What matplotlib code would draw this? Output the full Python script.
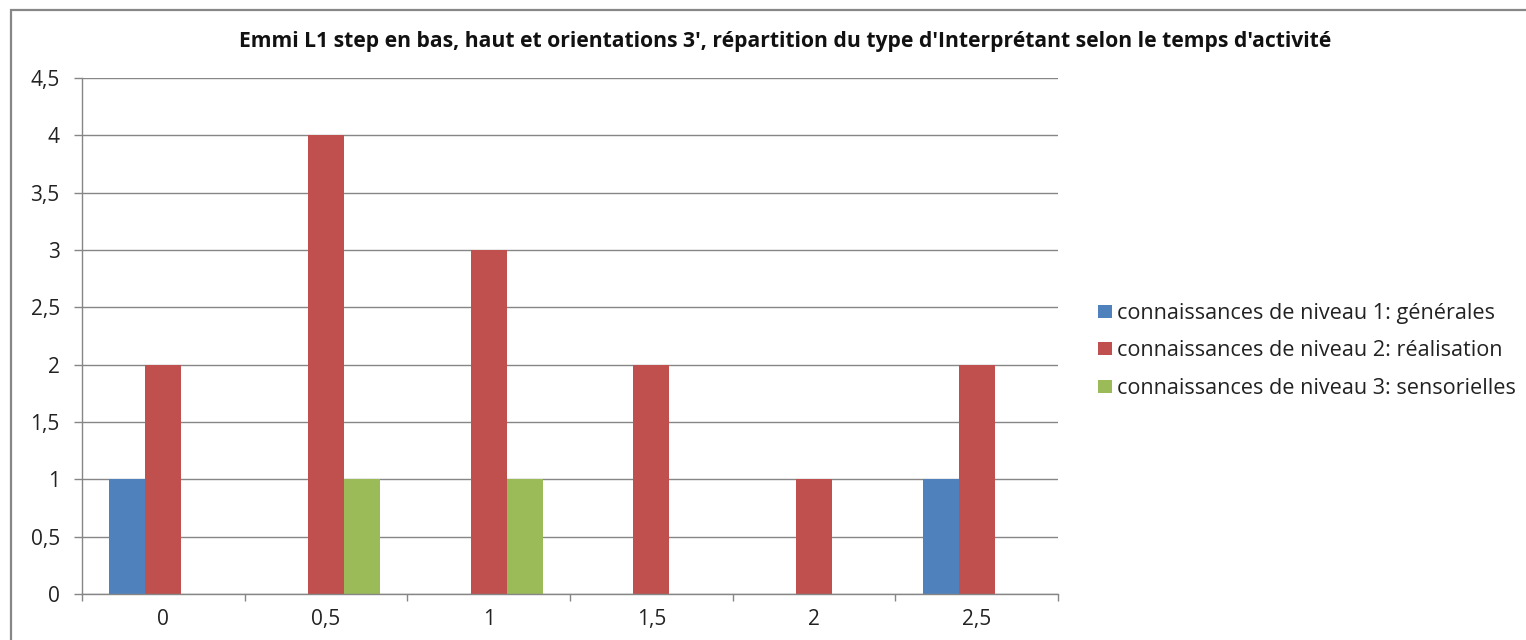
import matplotlib
matplotlib.use("Agg")
import matplotlib.pyplot as plt
import numpy as np
from matplotlib.patches import Rectangle
from matplotlib.ticker import FixedLocator, FuncFormatter

# Temps d'activité (catégories) et nombre d'interprétants par niveau
categories = ["0", "0,5", "1", "1,5", "2", "2,5"]
niveau1 = [1, 0, 0, 0, 0, 1]
niveau2 = [2, 4, 3, 2, 1, 2]
niveau3 = [0, 1, 1, 0, 0, 0]
series_labels = [
    "connaissances de niveau 1: générales",
    "connaissances de niveau 2: réalisation",
    "connaissances de niveau 3: sensorielles",
]
colors = ["#4F81BD", "#C0504D", "#9BBB59"]
title = ("Emmi L1 step en bas, haut et orientations 3', répartition du type "
         "d'Interprétant selon le temps d'activité")

plt.rcParams["font.family"] = ["Open Sans", "DejaVu Sans"]
W, H = 1526, 640
fig = plt.figure(figsize=(W / 100, H / 100), dpi=100)

# outer chart border (clipped by the figure edge on right and bottom)
fig.add_artist(Rectangle((11 / W, -0.1), 1.2, 1.1 - 10 / H,
                         transform=fig.transFigure, fill=False,
                         edgecolor="#878787", linewidth=1.6))

ax = fig.add_axes([82 / W, 1 - 594 / H, (1058 - 82) / W, (594 - 78) / H])

x = np.arange(len(categories)) + 0.5
bw = 36 / ((1058 - 82) / 6)
for i, (vals, lab, col) in enumerate(zip([niveau1, niveau2, niveau3], series_labels, colors)):
    ax.bar(x + (i - 1) * bw, vals, width=bw, color=col, label=lab, zorder=3)

ax.set_xlim(0, len(categories))
ax.set_ylim(0, 4.5)
ax.set_yticks(np.arange(0, 4.51, 0.5))
ax.yaxis.set_major_formatter(FuncFormatter(lambda v, p: f"{v:g}".replace(".", ",")))
ax.set_xticks(x)
ax.set_xticklabels(categories)
ax.xaxis.set_minor_locator(FixedLocator(np.arange(0, len(categories) + 1)))

ax.tick_params(axis="x", which="major", length=0, pad=11, labelsize=15, colors="#222222")
ax.tick_params(axis="x", which="minor", length=5, width=1, color="#868686", direction="out")
ax.tick_params(axis="y", length=6, width=1, color="#868686", pad=10, labelsize=15,
               labelcolor="#222222")

ax.grid(axis="y", color="#868686", linewidth=1, zorder=0)
for s in ["top", "right"]:
    ax.spines[s].set_visible(False)
for s in ["left", "bottom"]:
    ax.spines[s].set_color("#868686")
    ax.spines[s].set_linewidth(1)
    ax.spines[s].set_zorder(4)

fig.text(785.5 / W, 1 - 42 / H, title, ha="center", va="center",
         fontsize=15.2, fontweight="bold", color="#111111")

leg = fig.legend(loc="center left", bbox_to_anchor=(1098 / W, 1 - 351 / H),
                 frameon=False, fontsize=15.6, handlelength=0.65, handleheight=0.56,
                 handletextpad=0.23, labelspacing=0.76, borderaxespad=0,
                 borderpad=0)
for t in leg.get_texts():
    t.set_color("#222222")

fig.savefig("out.png", dpi=100)
